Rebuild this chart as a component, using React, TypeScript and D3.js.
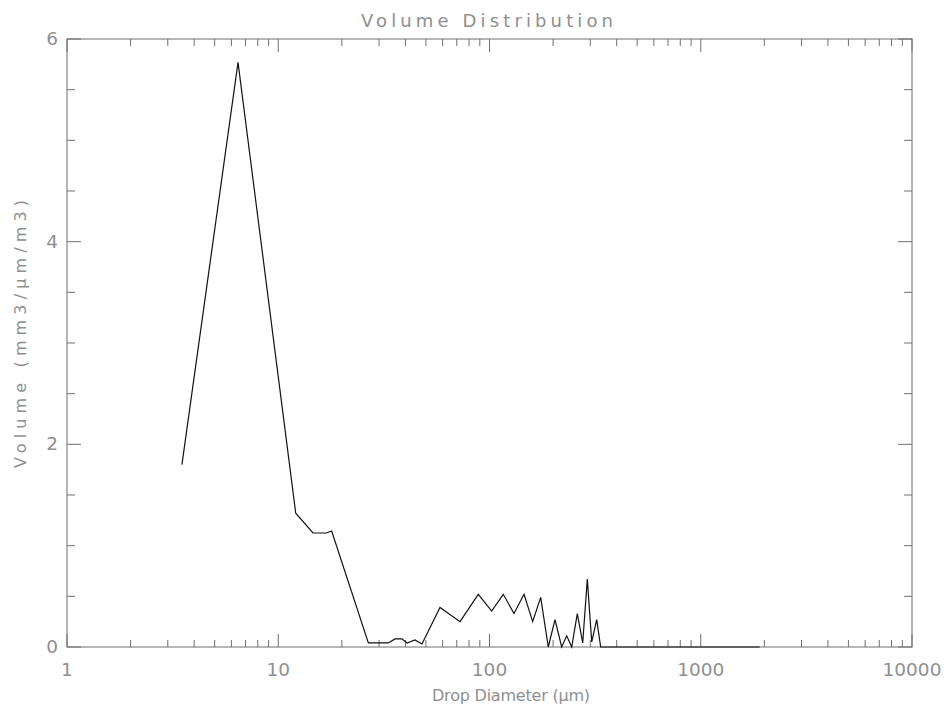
import React from 'react';
import * as d3 from 'd3';

// Drop diameter (µm) and volume (mm3/µm/m3)
const diameters = [3.5, 6.45, 12.1, 14.6, 16.9, 17.9, 26.7, 33.2, 35.7, 38.5, 40.7, 44.4, 47.9, 58.3, 72.5, 88.5, 102.4, 116.2, 130.6, 145.7, 160.1, 174.7, 189.8, 204.2, 219.6, 232.0, 245.0, 260.4, 276.2, 290.4, 304.7, 321.8, 335.9, 1900];
const volumes = [1.80, 5.77, 1.32, 1.125, 1.125, 1.145, 0.04, 0.04, 0.08, 0.08, 0.04, 0.07, 0.03, 0.39, 0.25, 0.52, 0.355, 0.52, 0.33, 0.52, 0.25, 0.49, 0.0, 0.27, 0.0, 0.11, 0.0, 0.33, 0.04, 0.67, 0.05, 0.27, 0.0, 0.0];

const xMajorTicks = [1, 10, 100, 1000, 10000];
const xTickLabels = ['1', '10', '100', '1000', '10000'];
const yMajorTicks = [0, 2, 4, 6];
const yTickLabels = ['0', '2', '4', '6'];

const titleText = 'Volume Distribution';
const xTitle = 'Drop Diameter (\u03bcm)';
const yTitle = 'Volume (mm3/\u03bcm/m3)';

const W = 947;
const H = 708;
const L = 67, R = 912, T = 39, B = 647;

export default function App() {
  const x = d3.scaleLog().domain([1, 10000]).range([L, R]);
  const y = d3.scaleLinear().domain([0, 6]).range([B, T]);

  const xMinor: number[] = [];
  for (let d = 1; d < 10000; d *= 10) for (let m = 2; m <= 9; m++) xMinor.push(d * m);
  const yMinor: number[] = [];
  for (let v = 0.5; v < 6; v += 0.5) if (!yMajorTicks.includes(v)) yMinor.push(v);

  const pts: [number, number][] = diameters.map((d, i) => [d, volumes[i]]);
  const line = d3.line<[number, number]>().x(d => x(d[0])).y(d => y(d[1]));

  const axisColor = '#6f6f6f';
  const textColor = '#8f8f8f';
  const font = 'DejaVu Sans, sans-serif';

  return (
    <div style={{ position: 'absolute', left: 0, top: 0 }}>
      <svg width={W} height={H} style={{ display: 'block', background: '#fff' }}>
        <text x={487} y={27} fontFamily={font} fontSize={18} fill={textColor}
          textAnchor="middle" textLength={252} lengthAdjust="spacing">{titleText}</text>

        <rect x={L} y={T} width={R - L} height={B - T} fill="none" stroke={axisColor} strokeWidth={1} />

        {xMajorTicks.map(t => (
          <g key={'xM' + t}>
            <line x1={x(t)} x2={x(t)} y1={B} y2={B - 13} stroke={axisColor} />
            <line x1={x(t)} x2={x(t)} y1={T} y2={T + 13} stroke={axisColor} />
          </g>
        ))}
        {xMinor.map(t => (
          <g key={'xm' + t}>
            <line x1={x(t)} x2={x(t)} y1={B} y2={B - 7} stroke={axisColor} />
            <line x1={x(t)} x2={x(t)} y1={T} y2={T + 7} stroke={axisColor} />
          </g>
        ))}
        {yMajorTicks.map(t => (
          <g key={'yM' + t}>
            <line x1={L} x2={L + 14} y1={y(t)} y2={y(t)} stroke={axisColor} />
            <line x1={R} x2={R - 14} y1={y(t)} y2={y(t)} stroke={axisColor} />
          </g>
        ))}
        {yMinor.map(t => (
          <g key={'ym' + t}>
            <line x1={L} x2={L + 8} y1={y(t)} y2={y(t)} stroke={axisColor} />
            <line x1={R} x2={R - 8} y1={y(t)} y2={y(t)} stroke={axisColor} />
          </g>
        ))}

        {xMajorTicks.map((t, i) => (
          <text key={'xl' + t} x={x(t)} y={676} fontFamily={font} fontSize={18.5}
            fill={textColor} textAnchor="middle">{xTickLabels[i]}</text>
        ))}
        {yMajorTicks.map((t, i) => (
          <text key={'yl' + t} x={58} y={y(t) + 6} fontFamily={font} fontSize={18.5}
            fill={textColor} textAnchor="end">{yTickLabels[i]}</text>
        ))}

        <text x={511} y={701} fontFamily={font} fontSize={16} fill={textColor}
          textAnchor="middle" textLength={158} lengthAdjust="spacing">{xTitle}</text>
        <text transform={`translate(26,${334}) rotate(-90)`} fontFamily={font} fontSize={16}
          fill={textColor} textAnchor="middle" textLength={268} lengthAdjust="spacing">{yTitle}</text>

        <path d={line(pts) || ''} fill="none" stroke="#111" strokeWidth={1.2} strokeLinejoin="miter" />
      </svg>
    </div>
  );
}
